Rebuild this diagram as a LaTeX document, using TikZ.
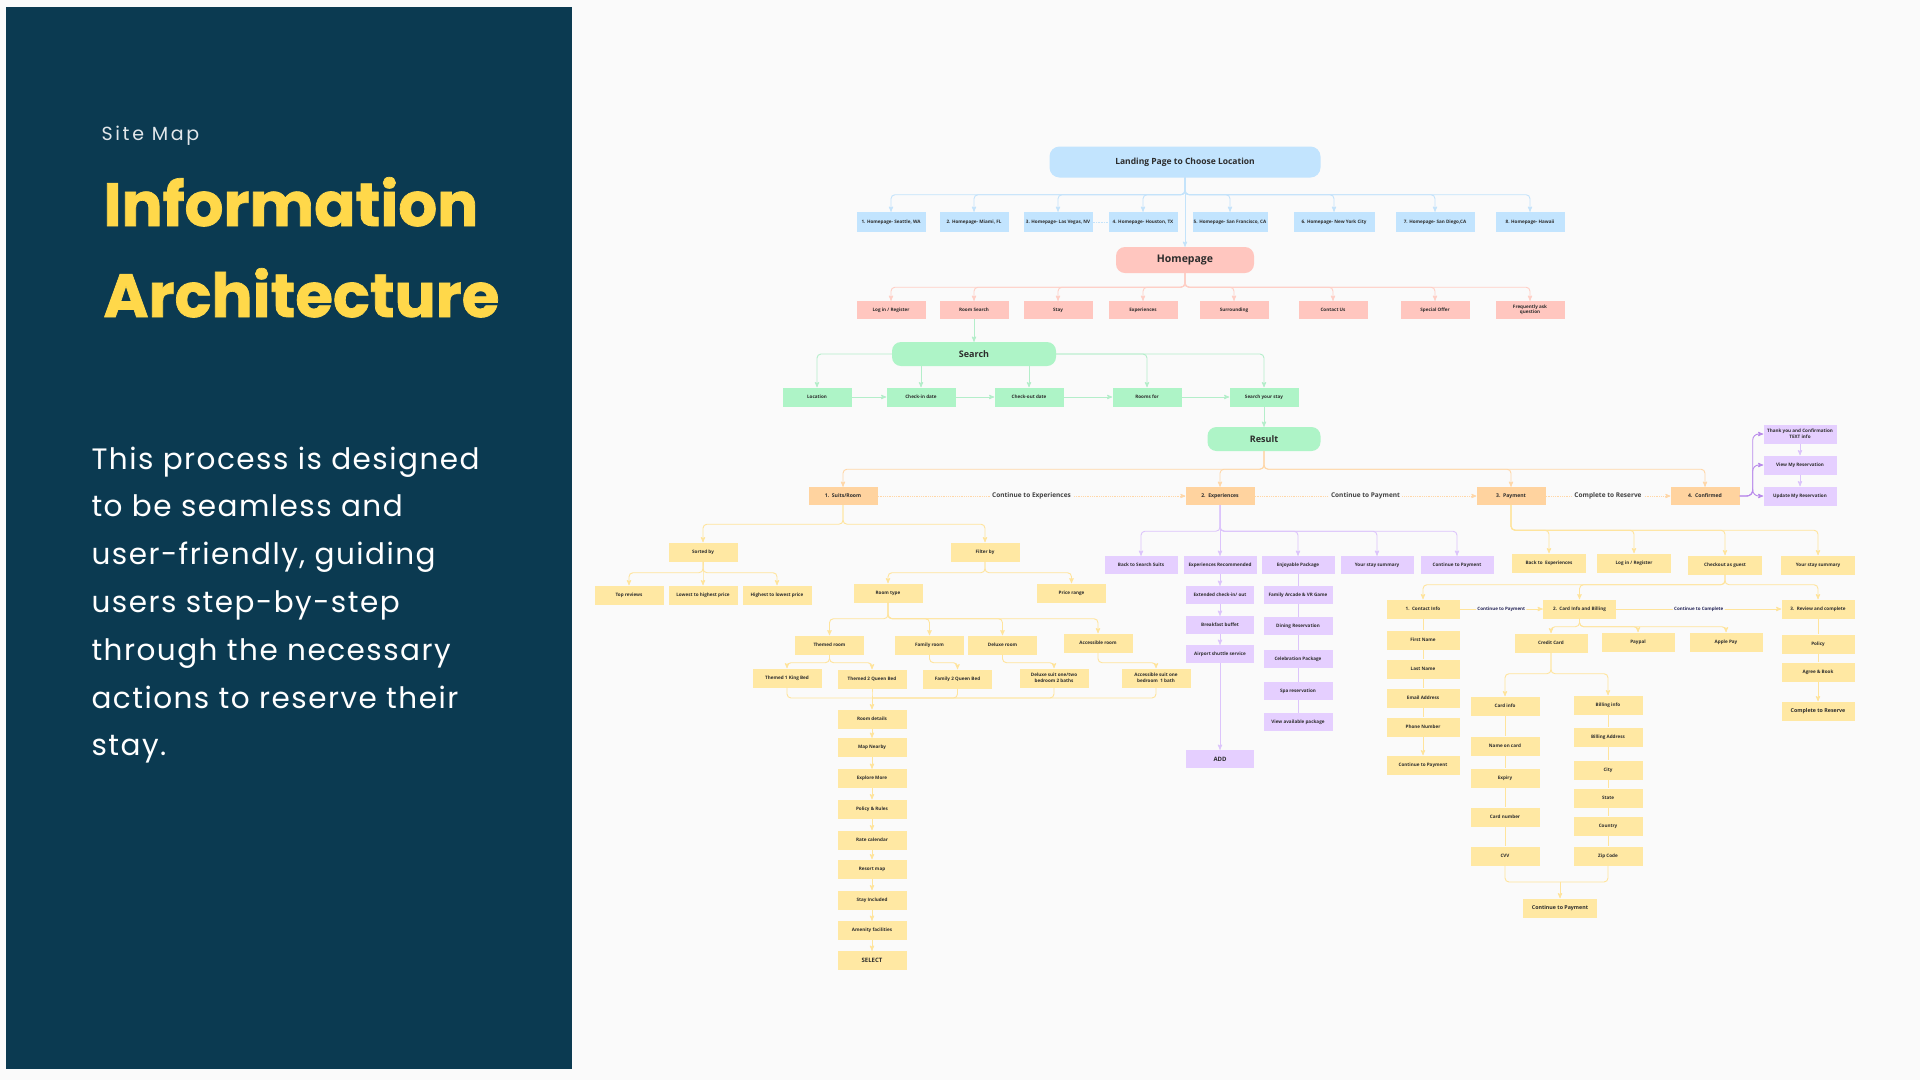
\documentclass[tikz,border=0pt]{standalone}
\usepackage{fontspec}
\setmainfont{Open Sans}
\newfontfamily\poppins{Poppins}
\usepackage{xcolor}
\usetikzlibrary{arrows}
\definecolor{panel}{HTML}{0B3A51}
\definecolor{gold}{HTML}{FFD84A}
\definecolor{paper}{HTML}{FAFAFA}
\definecolor{ink}{HTML}{2C2C2C}
\definecolor{skyF}{HTML}{C2E4FE}
\definecolor{skyL}{HTML}{C4E3FA}
\definecolor{roseF}{HTML}{FFC6BF}
\definecolor{roseL}{HTML}{FFCFC6}
\definecolor{mintF}{HTML}{AEF4C7}
\definecolor{mintL}{HTML}{B4EECA}
\definecolor{apriF}{HTML}{FFD39F}
\definecolor{apriL}{HTML}{FFD7A8}
\definecolor{lemF}{HTML}{FFE8A3}
\definecolor{lemL}{HTML}{FFE49C}
\definecolor{lilF}{HTML}{E5CFFF}
\definecolor{lilL}{HTML}{DCC4FB}
\definecolor{lilD}{HTML}{B98AEB}

\begin{document}
\begin{tikzpicture}[x=1pt, y=-1pt, >=stealth',
  box/.style={inner sep=0pt, minimum width=69pt, minimum height=19pt, align=center, text=ink, font=\fontsize{4.6}{5.5}\selectfont\bfseries},
  sky/.style={box, fill=skyF, minimum height=20pt},
  rose/.style={box, fill=roseF, minimum height=18pt},
  mint/.style={box, fill=mintF},
  apri/.style={box, fill=apriF, minimum height=18pt, font=\fontsize{5.1}{6}\selectfont\bfseries},
  lem/.style={box, fill=lemF},
  lil/.style={box, fill=lilF, minimum height=18pt},
  head/.style={box, rounded corners=9pt, font=\fontsize{9}{10}\selectfont\bfseries},
  link/.style={rounded corners=4pt, line width=0.9pt},
  flow/.style={line width=0.8pt, apriL, densely dotted},
  tag/.style={fill=paper, inner sep=2pt, text=ink!90, font=\fontsize{6.5}{7}\selectfont\bfseries},
  smalltag/.style={fill=paper, inner sep=1.5pt, text=ink!80!blue, font=\fontsize{4.5}{5}\selectfont\bfseries}]
\useasboundingbox (0,0) rectangle (1920,1080);
\fill[paper] (0,0) rectangle (1920,1080);
\fill[panel] (6,7) rectangle (572,1069);

\node[anchor=base west, text=white!88!panel, font={\poppins\fontsize{19}{24}\selectfont\addfontfeatures{LetterSpace=14}}] (smap) at (98,140) {Site Map};
\node[anchor=base west, text=gold, font={\poppins\bfseries\fontsize{61}{74}\selectfont\addfontfeatures{FakeBold=1.2}}] (ttl1) at (100,226) {Information};
\node[anchor=base west, text=gold, font={\poppins\bfseries\fontsize{61}{74}\selectfont\addfontfeatures{FakeBold=1.2}}] (ttl2) at (100,317) {Architecture};
\foreach \t [count=\i] in {This process is designed, to be seamless and, {user-friendly, guiding}, users step-by-step, through the necessary, actions to reserve their, stay.}
  \node[anchor=base west, text=white, font={\poppins\fontsize{29.5}{34}\selectfont\addfontfeatures{LetterSpace=5}}] (body\i) at (88,{469+47.8*(\i-1)}) {\t};

\node[head, fill=skyF, minimum width=271pt, minimum height=31pt, rounded corners=10pt, font=\fontsize{8.5}{10}\selectfont\bfseries] (land) at (1185,162) {Landing Page to Choose Location};
\node[sky] (h1) at (891,222) {1. Homepage- Seattle, WA};
\node[sky] (h2) at (974,222) {2. Homepage- Miami, FL};
\node[sky] (h3) at (1058,222) {3. Homepage- Las Vegas, NV};
\node[sky] (h4) at (1143,222) {4. Homepage- Houston, TX};
\node[sky, minimum width=75pt] (h5) at (1230,222) {5. Homepage- San Francisco, CA};
\node[sky, minimum width=81pt] (h6) at (1334,222) {6. Homepage- New York City};
\node[sky, minimum width=79pt] (h7) at (1435,222) {7. Homepage- San Diego,CA};
\node[sky] (h8) at (1530,222) {8. Homepage- Hawaii};
\foreach \i in {1,...,8}
  \draw[link, skyL, ->] (land.south) -- ++(0,17) -| (h\i.north);
\draw[skyL, densely dotted, line width=0.6pt] (h3.east) -- (h4.west);

\node[head, fill=roseF, minimum width=138pt, minimum height=26pt, font=\fontsize{10.5}{12}\selectfont\bfseries] (home) at (1185,260) {Homepage};
\draw[link, skyL, ->] (land.south) -- (home.north);
\foreach \n/\x/\t in {p1/891/{Log in / Register}, p2/974/Room Search, p3/1058/Stay, p4/1143/Experiences, p5/1234/Surrounding, p6/1333/Contact Us, p7/1435/Special Offer, p8/1530/{Frequently ask\\question}}
  \node[rose] (\n) at (\x,310) {\t};
\foreach \i in {1,...,8}
  \draw[link, roseL, ->] (home.south) -- ++(0,14) -| (p\i.north);

\node[head, fill=mintF, minimum width=164pt, minimum height=24pt] (srch) at (974,354) {Search};
\draw[link, mintL, ->] (p2.south) -- (srch.north);
\foreach \n/\x/\t in {g1/817/Location, g2/921/Check-in date, g3/1029/Check-out date, g4/1147/Rooms for, g5/1264/Search your stay}
  \node[mint] (\n) at (\x,397) {\t};
\draw[link, mintL, ->] (srch.west) -| (g1.north);
\draw[link, mintL, ->] (srch.south -| g2.north) -- (g2.north);
\draw[link, mintL, ->] (srch.south -| g3.north) -- (g3.north);
\draw[link, mintL, ->] (srch.east) -| (g4.north);
\draw[link, mintL, ->] (srch.east) -| (g5.north);
\foreach \a/\b in {g1/g2, g2/g3, g3/g4, g4/g5}
  \draw[link, mintL, ->] (\a.east) -- (\b.west);

\node[head, fill=mintF, minimum width=113pt, minimum height=24pt] (res) at (1264,439) {Result};
\draw[link, mintL, ->] (g5.south) -- (res.north);

\foreach \n/\x/\t in {o1/843/{1.\ \ Suits/Room}, o2/1220/2.\ \ Experiences, o3/1511/3.\ \ Payment, o4/1705/4.\ \ Confirmed}
  \node[apri] (\n) at (\x,496) {\t};
\foreach \n in {o1,o2,o3,o4}
  \draw[link, apriL, ->] (res.south) -- ++(0,18) -| (\n.north);
\draw[flow, ->] (o1.east) -- node[tag]{Continue to Experiences} (o2.west);
\draw[flow, ->] (o2.east) -- node[tag]{Continue to Payment} (o3.west);
\draw[flow, ->] (o3.east) -- node[tag]{Complete to Reserve} (o4.west);

% suits / room
\node[lem] (sort) at (703,552) {Sorted by};
\node[lem] (filt) at (985,552) {Filter by};
\foreach \n in {sort,filt}
  \draw[link, lemL, ->] (o1.south) -- ++(0,19) -| (\n.north);
\foreach \n/\x/\t in {top/629/Top reviews, low/703/Lowest to highest price, high/777/Highest to lowest price}
  \node[lem] (\n) at (\x,595) {\t};
\foreach \n in {top,low,high}
  \draw[link, lemL, ->] (sort.south) -- ++(0,11) -| (\n.north);
\node[lem] (rtype) at (888,593) {Room type};
\node[lem] (price) at (1071.5,593) {Price range};
\foreach \n in {rtype,price}
  \draw[link, lemL, ->] (filt.south) -- ++(0,11) -| (\n.north);
\node[lem] (themed) at (829.5,645) {Themed room};
\node[lem] (family) at (929.5,645) {Family room};
\node[lem] (deluxe) at (1002.5,645) {Deluxe room};
\node[lem] (access) at (1098,643) {Accessible room};
\foreach \n in {themed,family,deluxe,access}
  \draw[link, lemL, ->] (rtype.south) -- ++(0,16) -| (\n.north);
\node[lem] (tking) at (787,678) {Themed 1 King Bed};
\node[lem] (tqueen) at (872,679) {Themed 2 Queen Bed};
\node[lem] (fqueen) at (957.5,679) {Family 2 Queen Bed};
\node[lem] (dsuit) at (1054,678) {Deluxe suit one/two\\bedroom 2 baths};
\node[lem] (asuit) at (1156,678) {Accessible suit one\\bedroom\ \ 1 bath};
\foreach \n in {tking,tqueen}
  \draw[link, lemL, ->] (themed.south) -- ++(0,8) -| (\n.north);
\draw[link, lemL, ->] (family.south) -- ++(0,8) -| (fqueen.north);
\draw[link, lemL, ->] (deluxe.south) -- ++(0,8) -| (dsuit.north);
\draw[link, lemL, ->] (access.south) -- ++(0,10) -| (asuit.north);
\foreach \n/\y/\t in {rdet/719/Room details, map/747.5/Map Nearby, expl/778.5/Explore More, rules/809/Policy \& Rules, rate/840/Rate calendar, rmap/869/Resort map, incl/900/Stay Included, amen/930.5/Amenity facilities}
  \node[lem] (\n) at (872,\y) {\t};
\node[lem, font=\fontsize{6}{7}\selectfont\bfseries] (sel) at (872,960.5) {SELECT};
\coordinate (jn) at (872,698);
\foreach \n in {tking,tqueen,fqueen,dsuit,asuit}
  \draw[link, lemL] (\n.south) |- (jn);
\draw[link, lemL, ->] (jn) -- (rdet.north);
\foreach \a/\b in {rdet/map, map/expl, expl/rules, rules/rate, rate/rmap, rmap/incl, incl/amen, amen/sel}
  \draw[link, lemL, ->] (\a.south) -- (\b.north);

% experiences
\foreach \n/\x/\t in {bss/1141/Back to Search Suits, erec/1220/Experiences Recommended, enj/1298/Enjoyable Package, ess/1377/Your stay summary, ecp/1457/Continue to Payment}
  \node[lil, minimum width=73pt] (\n) at (\x,565) {\t};
\foreach \n in {bss,erec,enj,ess,ecp}
  \draw[link, lilL, ->] (o2.south) -- ++(0,26) -| (\n.north);
\foreach \n/\y/\t in {ext/595/{Extended check-in/ out}, brk/625/Breakfast buffet, air/654/Airport shuttle service}
  \node[lil, minimum width=68pt] (\n) at (1220,\y) {\t};
\node[lil, minimum width=68pt, font=\fontsize{6}{7}\selectfont\bfseries] (add) at (1220,759) {ADD};
\foreach \a/\b in {erec/ext, ext/brk, brk/air, air/add}
  \draw[link, lilL, ->] (\a.south) -- (\b.north);
\foreach \n/\y/\t in {arc/595/Family Arcade \& VR Game, dine/626/Dining Reservation, cel/659/Celebration Package, spa/691/Spa reservation, vap/722/View available package}
  \node[lil, minimum width=69pt] (\n) at (1298,\y) {\t};
\foreach \a/\b in {enj/arc, arc/dine, dine/cel, cel/spa, spa/vap}
  \draw[link, lilL] (\a.south) -- (\b.north);

% payment
\foreach \n/\x/\y/\t in {pback/1549/563/Back to\ \ Experiences, plog/1634/563/{Log in / Register}, guest/1725/565/Checkout as guest, psum/1818/565/Your stay summary}
  \node[lem, minimum width=74pt] (\n) at (\x,\y) {\t};
\foreach \n in {pback,plog,guest,psum}
  \draw[link, lemL, ->] (o3.south) -- ++(0,25) -| (\n.north);
\node[lem, minimum width=73pt] (cinfo) at (1423,609) {1.\ \ Contact Info};
\node[lem, minimum width=73pt] (card) at (1579.5,609) {2.\ \ Card Info and Billing};
\node[lem, minimum width=73pt] (rev) at (1818,609) {3.\ \ Review and complete};
\foreach \n in {cinfo,card,rev}
  \draw[link, lemL, ->] (guest.south) -- ++(0,10) -| (\n.north);
\draw[link, lemL, ->] (cinfo.east) -- node[smalltag]{Continue to Payment} (card.west);
\draw[link, lemL, ->] (card.east) -- node[smalltag]{Continue to Complete} (rev.west);
\foreach \n/\y/\t in {first/640/First Name, last/669/Last Name, email/698/Email Address, phone/727/Phone Number, cpay/765/Continue to Payment}
  \node[lem, minimum width=73pt] (\n) at (1423,\y) {\t};
\foreach \a/\b in {cinfo/first, first/last, last/email, email/phone}
  \draw[link, lemL] (\a.south) -- (\b.north);
\draw[link, lemL, ->] (phone.south) -- (cpay.north);
\node[lem, minimum width=73pt] (credit) at (1551,643) {Credit Card};
\node[lem, minimum width=73pt] (paypal) at (1638,642) {Paypal};
\node[lem, minimum width=73pt] (apple) at (1726,642) {Apple Pay};
\foreach \n in {credit,paypal,apple}
  \draw[link, lemL, ->] (card.south) -- ++(0,8) -| (\n.north);
\foreach \n/\y/\t in {cardi/706/Card info, noc/746/Name on card, expy/778/Expiry, cnum/817/Card number, cvv/856/CVV}
  \node[lem] (\n) at (1505,\y) {\t};
\foreach \n/\y/\t in {bill/705/Billing info, badr/737/Billing Address, city/770/City, state/798/State, ctry/826/Country, zip/856/Zip Code}
  \node[lem] (\n) at (1608,\y) {\t};
\foreach \n in {cardi,bill}
  \draw[link, lemL, ->] (credit.south) -- ++(0,21) -| (\n.north);
\foreach \a/\b in {cardi/noc, noc/expy, expy/cnum, cnum/cvv, bill/badr, badr/city, city/state, state/ctry, ctry/zip}
  \draw[link, lemL] (\a.south) -- (\b.north);
\node[lem, minimum width=74pt, font=\fontsize{5.3}{6}\selectfont\bfseries] (fpay) at (1560,908) {Continue to Payment};
\coordinate (jp) at (1560,882);
\foreach \n in {cvv,zip}
  \draw[link, lemL] (\n.south) |- (jp);
\draw[link, lemL, ->] (jp) -- (fpay.north);
\node[lem, minimum width=73pt] (rpol) at (1818,644) {Policy};
\node[lem, minimum width=73pt] (agree) at (1818,672) {Agree \& Book};
\node[lem, minimum width=73pt, font=\fontsize{5.3}{6}\selectfont\bfseries] (crsv) at (1818,711) {Complete to Reserve};
\draw[link, lemL] (rev.south) -- (rpol.north);
\draw[link, lemL] (rpol.south) -- (agree.north);
\draw[link, lemL, ->] (agree.south) -- (crsv.north);

% confirmed
\node[lil, minimum width=73pt, minimum height=19pt] (thx) at (1800,434) {Thank you and Confirmation\\TEXT info};
\node[lil, minimum width=73pt, minimum height=19pt] (vres) at (1800,465) {View My Reservation};
\node[lil, minimum width=73pt, minimum height=19pt] (ures) at (1800,496) {Update My Reservation};
\foreach \n in {thx,vres,ures}
  \draw[link, lilD, ->, rounded corners=6pt] (o4.east) -- ++(13,0) |- (\n.west);
\draw[link, lilL, ->] (thx.south) -- (vres.north);
\draw[link, lilL, ->] (vres.south) -- (ures.north);
\end{tikzpicture}
\end{document}
